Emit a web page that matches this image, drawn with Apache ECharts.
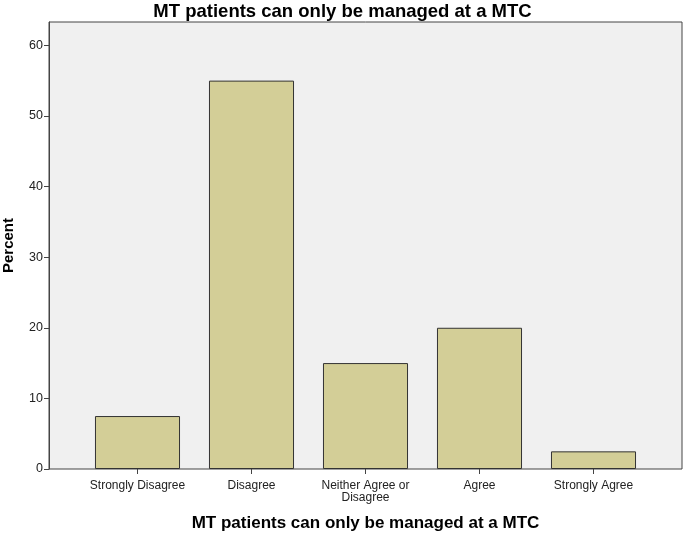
<!DOCTYPE html>
<html><head><meta charset="utf-8">
<script src="https://cdn.jsdelivr.net/npm/echarts@6/dist/echarts.min.js"></script>
<style>html,body{margin:0;padding:0;background:#fff}#c{width:685px;height:534px}</style>
</head><body><div id="c"></div>
<script>
var categories = ['Strongly Disagree', 'Disagree', 'Neither Agree or\nDisagree', 'Agree', 'Strongly Agree'];
var percents = [7.5, 55.0, 15.0, 20.0, 2.5];
var yTicks = [0, 10, 20, 30, 40, 50, 60];
var titleText = 'MT patients can only be managed at a MTC';
var xTitle = 'MT patients can only be managed at a MTC';
var yTitle = 'Percent';

var yMax = 63.3;
var font = '"Liberation Sans", Arial, sans-serif';
var chart = echarts.init(document.getElementById('c'), null, {renderer: 'canvas'});
chart.setOption({
  animation: false,
  title: {text: titleText, left: 'center', top: -3,
    textStyle: {fontFamily: font, fontSize: 18.5, fontWeight: 'bold', color: '#000'}},
  grid: [
    {left: 49, right: 3, top: 22, bottom: 65, show: true, backgroundColor: '#f0f0f0', borderColor: '#444', borderWidth: 1, outerBoundsMode: 'none', containLabel: false},
    {left: 80.5, width: 570, top: 22, bottom: 65, outerBoundsMode: 'none', containLabel: false}
  ],
  xAxis: [
    {type: 'category', gridIndex: 0, data: [''], show: false},
    {type: 'category', gridIndex: 1, data: categories,
      axisLine: {show: false},
      axisTick: {show: true, alignWithLabel: true, length: 5, lineStyle: {color: '#444'}},
      axisLabel: {fontFamily: font, fontSize: 12, color: '#222', margin: 11, lineHeight: 12, interval: 0},
      name: xTitle, nameLocation: 'middle', nameGap: 46,
      nameTextStyle: {fontFamily: font, fontSize: 17, fontWeight: 'bold', color: '#000'}}
  ],
  yAxis: [
    {type: 'value', gridIndex: 0, min: 0, max: yMax, interval: 10,
      axisLine: {show: true, lineStyle: {color: '#444'}},
      axisTick: {show: true, length: 5, lineStyle: {color: '#444'}},
      splitLine: {show: false},
      axisLabel: {fontFamily: font, fontSize: 12.5, color: '#222', margin: 6, showMaxLabel: false,
        formatter: function (v) { return yTicks.indexOf(v) >= 0 ? String(v) : ''; }},
      name: yTitle, nameLocation: 'middle', nameGap: 33, nameRotate: 90,
      nameTextStyle: {fontFamily: font, fontSize: 15, fontWeight: 'bold', color: '#000'}},
    {type: 'value', gridIndex: 1, min: 0, max: yMax, show: false, splitLine: {show: false}}
  ],
  series: [{
    type: 'bar', xAxisIndex: 1, yAxisIndex: 1, data: percents, barWidth: '74.6%',
    itemStyle: {color: '#d3ce97', borderColor: '#333', borderWidth: 1}
  }]
});
</script></body></html>
